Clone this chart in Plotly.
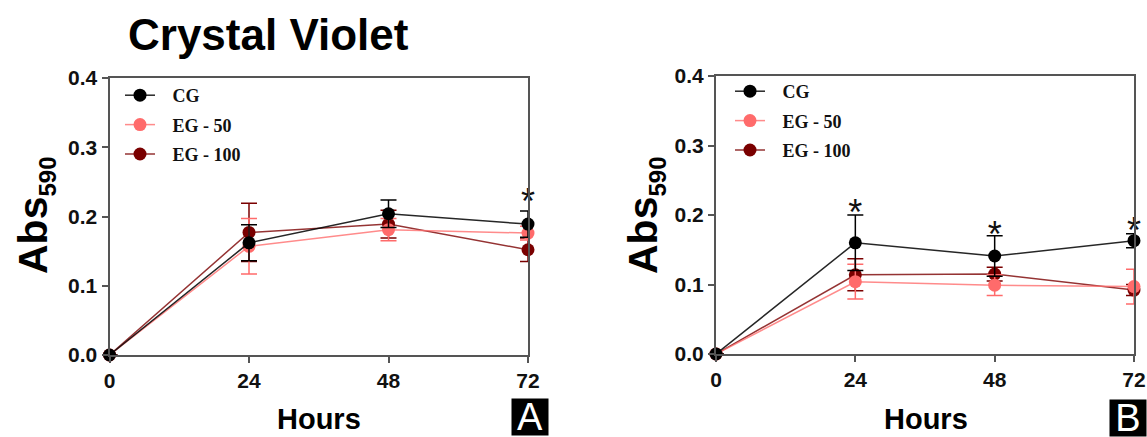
import plotly.graph_objects as go

hours = [0, 24, 48, 72]
x_ticks = [0, 24, 48, 72]
y_ticks = [0.0, 0.1, 0.2, 0.3, 0.4]
y_tick_labels = ["0.0", "0.1", "0.2", "0.3", "0.4"]
series_names = ["CG", "EG - 50", "EG - 100"]

# Panel A
a_cg = [0, 0.162, 0.204, 0.189]
a_cg_err = [0, 0.026, 0.020, 0.019]
a_eg50 = [0, 0.157, 0.181, 0.176]
a_eg50_err = [0, 0.040, 0.016, 0.010]
a_eg100 = [0, 0.177, 0.189, 0.152]
a_eg100_err = [0, 0.042, 0.020, 0.017]
a_star_x = [72]
a_star_y = [0.216]

# Panel B
b_cg = [0, 0.160, 0.141, 0.163]
b_cg_err = [0, 0.040, 0.029, 0.010]
b_eg50 = [0, 0.104, 0.099, 0.097]
b_eg50_err = [0, 0.025, 0.015, 0.025]
b_eg100 = [0, 0.114, 0.115, 0.092]
b_eg100_err = [0, 0.023, 0.010, 0.008]
b_star_x = [24, 48, 72]
b_star_y = [0.198, 0.167, 0.173]

colors = {"CG": "#000000", "EG - 50": "#ff6b6b", "EG - 100": "#7a0000"}
line_colors = {"CG": "rgba(0,0,0,0.85)", "EG - 50": "rgba(255,110,110,0.8)", "EG - 100": "rgba(122,0,0,0.8)"}

W, H = 1147, 437
fig = go.Figure()
LEG_PAD = "\u2002\u2009"  # small gap between legend symbol and label

def add_panel(xa, ya, legend, data, tag):
    for name in ["EG - 100", "EG - 50", "CG"]:
        y, err = data[name]
        rank = {"CG": 1, "EG - 50": 2, "EG - 100": 3}[name]
        fig.add_trace(go.Scatter(
            x=hours, y=y, name=LEG_PAD + name, mode="lines+markers",
            xaxis=xa, yaxis=ya, legend=legend, legendrank=rank, legendgroup=tag + name,
            line=dict(color=line_colors[name], width=1.5),
            marker=dict(color=colors[name], size=13),
            error_y=dict(type="data", array=err, visible=True, color=colors[name], thickness=1.5, width=8),
            cliponaxis=False,
        ))

add_panel("x", "y", "legend", {"CG": (a_cg, a_cg_err), "EG - 50": (a_eg50, a_eg50_err), "EG - 100": (a_eg100, a_eg100_err)}, "A")
add_panel("x2", "y2", "legend2", {"CG": (b_cg, b_cg_err), "EG - 50": (b_eg50, b_eg50_err), "EG - 100": (b_eg100, b_eg100_err)}, "B")

star_font = dict(family="Liberation Sans", size=36, color="#111")
fig.add_trace(go.Scatter(x=a_star_x, y=a_star_y, mode="text", text=["*"] * len(a_star_x),
                         textfont=star_font, xaxis="x", yaxis="y", showlegend=False, cliponaxis=False,
                         textposition="middle center"))
fig.add_trace(go.Scatter(x=b_star_x, y=b_star_y, mode="text", text=["*"] * len(b_star_x),
                         textfont=star_font, xaxis="x2", yaxis="y2", showlegend=False, cliponaxis=False,
                         textposition="middle center"))

tickfont = dict(family="Liberation Sans", size=21, color="#111", weight="bold")
axis_common = dict(showgrid=False, zeroline=False, showline=True, linecolor="#555", linewidth=2,
                   mirror=True, ticks="outside", ticklen=6, tickwidth=2, tickcolor="#555",
                   tickfont=tickfont, automargin=False)

legend_font = dict(family="Liberation Serif", size=18, color="#111", weight="bold")
fig.update_layout(
    width=W, height=H,
    margin=dict(l=0, r=0, t=0, b=0, pad=0),
    paper_bgcolor="white", plot_bgcolor="white",
    xaxis=dict(domain=[109.5 / W, 528 / W], range=[0, 72], tickvals=x_ticks, anchor="y", **axis_common),
    yaxis=dict(domain=[1 - 355 / H, 1 - 78 / H], range=[0, 0.4], tickvals=y_ticks, ticktext=y_tick_labels,
               anchor="x", **axis_common),
    xaxis2=dict(domain=[716 / W, 1134 / W], range=[0, 72], tickvals=x_ticks, anchor="y2", **axis_common),
    yaxis2=dict(domain=[1 - 354 / H, 1 - 76 / H], range=[0, 0.4], tickvals=y_ticks, ticktext=y_tick_labels,
                anchor="x2", **axis_common),
    legend=dict(x=120 / W, y=1 - 77 / H, xanchor="left", yanchor="top", bgcolor="rgba(0,0,0,0)",
                font=legend_font, itemwidth=30, traceorder="grouped", tracegroupgap=3),
    legend2=dict(x=730 / W, y=1 - 73 / H, xanchor="left", yanchor="top", bgcolor="rgba(0,0,0,0)",
                 font=legend_font, itemwidth=30, traceorder="grouped", tracegroupgap=3),
    showlegend=True,
)

annos = []
annos.append(dict(text="<b>Crystal Violet</b>", x=268 / W, y=1 - 35 / H, xref="paper", yref="paper",
                  xanchor="center", yanchor="middle",
                  showarrow=False, font=dict(family="Liberation Sans", size=44, color="#000")))
for cx, cy in [(35, 215), (645, 215)]:
    annos.append(dict(text="<b>Abs<sub><span style='font-size:24px'>590</span></sub></b>",
                      x=cx / W, y=1 - cy / H, xref="paper", yref="paper",
                      xanchor="center", yanchor="middle",
                      showarrow=False, textangle=-90,
                      font=dict(family="Liberation Sans", size=41, color="#000")))
for cx in [319, 926]:
    annos.append(dict(text="<b>Hours</b>", x=cx / W, y=1 - 419 / H, xref="paper", yref="paper",
                      xanchor="center", yanchor="middle",
                      showarrow=False, font=dict(family="Liberation Sans", size=29, color="#000")))
for lbl, cx, cy in [("A", 529.5, 416.5), ("B", 1127.5, 418)]:
    annos.append(dict(text=lbl, x=cx / W, y=1 - cy / H, xref="paper", yref="paper", showarrow=False,
                      xanchor="center", yanchor="middle",
                      bgcolor="#000", width=36, height=36, borderpad=0,
                      font=dict(family="Liberation Sans", size=38, color="#fff")))
fig.update_layout(annotations=annos)

fig.write_html("out.html")
